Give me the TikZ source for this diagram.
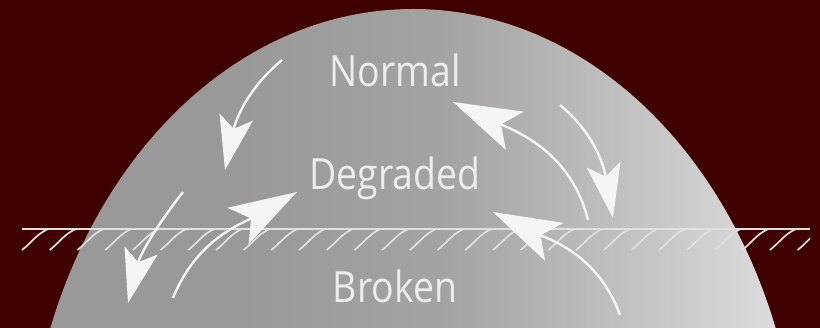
\documentclass[tikz,border=0pt]{standalone}
\usepackage{fontspec}
\setsansfont{Open Sans}[FakeStretch=0.87]
\usetikzlibrary{arrows.meta}
\definecolor{maroonbg}{HTML}{3F0000}
\definecolor{chalk}{HTML}{EDEDED}
\definecolor{arrowwhite}{HTML}{F4F6F6}
\definecolor{hatchgray}{HTML}{E0E0E0}
\pgfdeclarehorizontalshading{domeshade}{100bp}{rgb(0bp)=(0.6,0.6,0.6); rgb(39bp)=(0.6,0.6,0.6); rgb(52bp)=(0.64,0.64,0.64); rgb(63bp)=(0.75,0.75,0.75); rgb(74bp)=(0.87,0.87,0.87); rgb(100bp)=(0.87,0.87,0.87)}
\tikzset{
	state/.style={font=\sffamily\fontsize{43}{43}\selectfont, text=chalk, anchor=base, inner sep=0pt},
	hatch/.style={draw=hatchgray, line width=1.7pt},
	worse/.style={draw=arrowwhite, line width=2.4pt, -{Stealth[length=54pt, width=34pt, inset=12pt, fill=arrowwhite]}},
	better/.style={draw=arrowwhite, line width=2.4pt, -{Stealth[length=68pt, width=42pt, inset=15pt, fill=arrowwhite]}}
}
\begin{document}
\begin{tikzpicture}[x=1pt, y=1pt]
	\useasboundingbox (0,0) rectangle (820,328);
	\fill[maroonbg] (0,0) rectangle (820,328);
	\clip (0,0) rectangle (820,328);
	\shade[shading=domeshade] (413,-172) ellipse [x radius=387, y radius=491];

	% ground line
	\draw[hatch] (22,99)--(810,99);
	\begin{scope}
		\clip (0,0) rectangle (810,328);
		\foreach \i in {0, 1, ..., 28}
			\draw[hatch] ({22+27.7*\i},78) to[out=38, in=205] ({48+27.7*\i},99);
	\end{scope}

	\node[state] (normal) at (395,241) {Normal};
	\node[state] (degraded) at (395,138) {Degraded};
	\node[state] (broken) at (395,25) {Broken};

	\coordinate (nd1) at (282,268);
	\coordinate (nd2) at (225,158);
	\coordinate (db1) at (183,136);
	\coordinate (db2) at (128,25);
	\coordinate (bd1) at (173,30);
	\coordinate (bd2) at (297,136);
	\coordinate (dn1) at (588,108);
	\coordinate (dn2) at (453,226);
	\coordinate (nd3) at (560,223);
	\coordinate (nd4) at (613,110);
	\coordinate (bd3) at (620,13);
	\coordinate (bd4) at (493,116);

	\draw[worse] (nd1) to[out=220, in=78] (nd2);
	\draw[worse] (db1) to[out=232, in=76] (db2);
	\draw[better] (bd1) to[out=68, in=210] (bd2);
	\draw[better] (dn1) to[out=104, in=-25] (dn2);
	\draw[worse] (nd3) to[out=-40, in=100] (nd4);
	\draw[better] (bd3) to[out=110, in=-26] (bd4);
\end{tikzpicture}
\end{document}
